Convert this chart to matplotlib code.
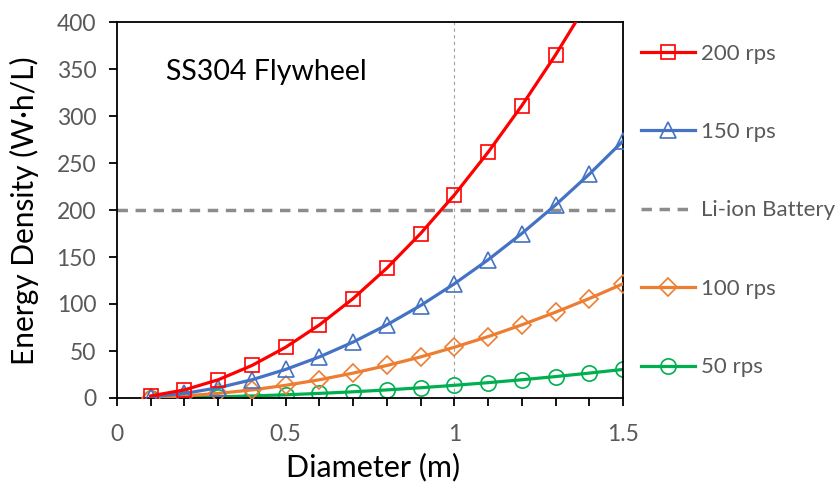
import matplotlib
matplotlib.use("Agg")
import matplotlib.pyplot as plt
from matplotlib.ticker import MultipleLocator

plt.rcParams['font.family'] = ['Lato', 'DejaVu Sans']

diameter = [0.1, 0.2, 0.3, 0.4, 0.5, 0.6, 0.7, 0.8, 0.9, 1.0, 1.1, 1.2, 1.3, 1.4, 1.5]
rps200 = [2.2, 8.6, 19.4, 34.6, 54.0, 77.8, 105.8, 138.2, 175.0, 216.0, 261.4, 311.0, 365.0, 423.4, 486.0]
rps150 = [1.2, 4.9, 10.9, 19.4, 30.4, 43.7, 59.5, 77.8, 98.4, 121.5, 147.0, 175.0, 205.3, 238.1, 273.4]
rps100 = [0.5, 2.2, 4.9, 8.6, 13.5, 19.4, 26.5, 34.6, 43.7, 54.0, 65.3, 77.8, 91.3, 105.8, 121.5]
rps50 = [0.1, 0.5, 1.2, 2.2, 3.4, 4.9, 6.6, 8.6, 10.9, 13.5, 16.3, 19.4, 22.8, 26.5, 30.4]
liion = 200
labels = ['200 rps', '150 rps', 'Li-ion Battery', '100 rps', '50 rps']

fig = plt.figure(figsize=(8.38, 4.84), dpi=100)
ax = fig.add_axes([117/838, 1-398/484, 506/838, 376/484])

# vertical reference at D = 1 m
ax.axvline(1.0, color='#a0a0a0', lw=0.8, ls=(0, (3, 3)), zorder=1)
hli = ax.axhline(liion, color='#8c8c8c', lw=2.5, ls=(0, (3, 2.2)), zorder=1)

h200, = ax.plot(diameter, rps200, color='#ff0000', lw=2.3, marker='s', ms=10,
                mfc='none', mec='#ff0000', mew=1.2, zorder=5)
h150, = ax.plot(diameter, rps150, color='#4472c4', lw=2.3, marker='^', ms=11,
                mfc='none', mec='#4472c4', mew=1.2, zorder=4)
h100, = ax.plot(diameter, rps100, color='#ed7d31', lw=2.3, marker='D', ms=9,
                mfc='none', mec='#ed7d31', mew=1.2, zorder=3)
h50, = ax.plot(diameter, rps50, color='#00b050', lw=2.3, marker='o', ms=11,
               mfc='none', mec='#00b050', mew=1.2, zorder=2)

ax.set_xlim(0, 1.5)
ax.set_ylim(0, 400)
ax.xaxis.set_major_locator(MultipleLocator(0.5))
ax.xaxis.set_minor_locator(MultipleLocator(0.1))
ax.yaxis.set_major_locator(MultipleLocator(50))
ax.xaxis.set_major_formatter(plt.FuncFormatter(lambda v, p: '%g' % v))

ax.tick_params(axis='both', which='both', direction='out', length=6, width=1.3,
               labelsize=16.5, labelcolor='#595959', color='black')
ax.tick_params(axis='x', pad=13)
ax.tick_params(axis='y', pad=9)
for s in ax.spines.values():
    s.set_linewidth(1.3)

ax.set_xlabel('Diameter (m)', fontsize=22, va='center')
ax.xaxis.set_label_coords(0.506, -0.1835)
ax.set_ylabel('Energy Density (W·h/L)', fontsize=21.5, va='center')
ax.yaxis.set_label_coords(-0.182, 0.497)

ax.text(0.097, 0.867, 'SS304 Flywheel', transform=ax.transAxes, fontsize=20.5,
        va='center', ha='left')

leg = ax.legend([h200, h150, hli, h100, h50], labels, loc='center left',
                bbox_to_anchor=(641/838, 1-210.5/484), bbox_transform=fig.transFigure,
                frameon=False, fontsize=16, labelspacing=2.63, handlelength=2.45,
                handletextpad=0.25, borderpad=0, borderaxespad=0, numpoints=1)
for t in leg.get_texts():
    t.set_color('#595959')

fig.savefig('out.png', dpi=100)
